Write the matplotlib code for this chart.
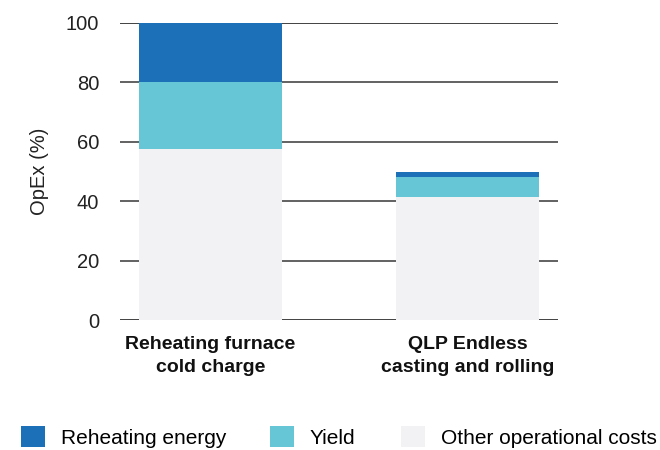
import numpy as np
import matplotlib
matplotlib.use("Agg")
import matplotlib.pyplot as plt
from matplotlib.patches import Patch

# data
categories = ["Reheating furnace\ncold charge", "QLP Endless\ncasting and rolling"]
series = ["Reheating energy", "Yield", "Other operational costs"]
other_costs = [57.5, 41.5]
yield_costs = [22.5, 6.5]
energy_costs = [20.0, 2.0]
yticks = [0, 20, 40, 60, 80, 100]

colors = {"Reheating energy": "#1b70b7",
          "Yield": "#67c6d6",
          "Other operational costs": "#f2f2f5"}

plt.rcParams['font.family'] = ['Liberation Sans', 'DejaVu Sans']

fig = plt.figure(figsize=(6.6, 4.5), dpi=100)
ax = fig.add_axes([120/660, 1 - 320/450, 438/660, 297/450])

x = np.arange(len(categories))
w = 0.556
ax.bar(x, other_costs, w, color=colors["Other operational costs"], zorder=3)
ax.bar(x, yield_costs, w, bottom=other_costs, color=colors["Yield"], zorder=3)
bottom2 = np.array(other_costs) + np.array(yield_costs)
ax.bar(x, energy_costs, w, bottom=bottom2, color=colors["Reheating energy"], zorder=3)

ax.set_xlim(-0.352, 1.352)
ax.set_ylim(0, 100)
ax.set_yticks(yticks)
ax.tick_params(axis='y', length=0, pad=15, labelsize=14.5, colors='#222222')
for t in yticks:
    ax.axhline(t, color='#555555' if t not in (0, 100) else '#333333', lw=1.3, zorder=1)
for s in ax.spines.values():
    s.set_visible(False)
ax.set_ylabel("OpEx (%)", fontsize=14.5, labelpad=12, color='#222222')

ax.set_xticks([])
for xi, lab in zip(x, categories):
    ax.text(xi, -5.5, lab, ha='center', va='top', fontsize=14,
            fontweight='bold', linespacing=1.45, color='#111111')

# legend, one entry at a time to keep the original spacing
leg_x = [21/660, 270/660, 401/660]
for name, lx in zip(series, leg_x):
    h = Patch(facecolor=colors[name], edgecolor='none')
    fig.legend([h], [name], loc='center left', bbox_to_anchor=(lx, 1 - 437/450),
               frameon=False, handlelength=1.15, handleheight=1.15,
               handletextpad=0.75, borderpad=0, borderaxespad=0,
               prop={'size': 15})

fig.savefig("out.png", dpi=100)
